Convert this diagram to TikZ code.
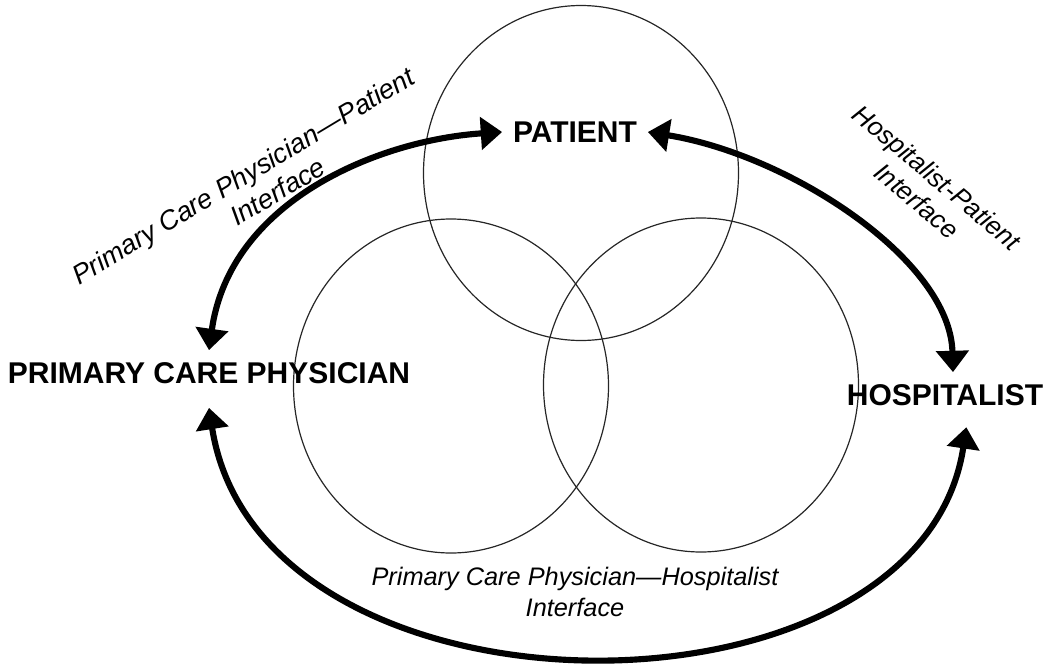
\documentclass[tikz,border=0pt]{standalone}
\usepackage{fontspec}
\setmainfont{Liberation Sans}
\usetikzlibrary{arrows.meta,calc}
\begin{document}
\begin{tikzpicture}[x=0.75pt,y=-0.75pt,
  ring/.style={draw=black!85, line width=0.9pt},
  party/.style={font=\bfseries\fontsize{22.5}{26}\selectfont, inner sep=0pt},
  iface/.style={font=\itshape\fontsize{19.5}{23}\selectfont, align=center, inner sep=0pt},
  link/.style={line width=4.6pt, {Triangle[length=16pt,width=24pt]}-{Triangle[length=16pt,width=24pt]}}]
\useasboundingbox (0,0) rectangle (1050,664);
\draw[ring] (581,173) ellipse [x radius=157.5, y radius=167.5];
\draw[ring] (451,386) ellipse [x radius=157.5, y radius=167];
\draw[ring] (701,385) ellipse [x radius=157.5, y radius=167];
\node[party] (patient) at (575,132) {PATIENT};
\node[party] (pcp) at (209,373) {PRIMARY CARE PHYSICIAN};
\node[party] (hosp) at (945,395) {HOSPITALIST};
\node[iface, font=\itshape\fontsize{20.3}{23.5}\selectfont, rotate=31] (l1) at (251,189) {Primary Care Physician---Patient\\\hspace*{1.6em}Interface};
\node[iface, rotate=-40] (l2) at (927,189) {Hospitalist-Patient\\Interface};
\node[iface, font=\itshape\fontsize{19}{23}\selectfont] (l3) at (575,592) {Primary Care Physician---Hospitalist\\Interface};
\draw[link] ([xshift=-8pt]patient.west) .. controls (380,140) and (230,200) .. ([yshift=9pt]pcp.north);
\draw[link] ([xshift=8pt]patient.east) .. controls (790,155) and (950,260) .. ([xshift=6pt,yshift=9pt]hosp.north);
\draw[link] ([yshift=-18pt]pcp.south) .. controls (260,735) and (920,735) .. ([xshift=16pt,yshift=-16pt]hosp.south);
\end{tikzpicture}
\end{document}
